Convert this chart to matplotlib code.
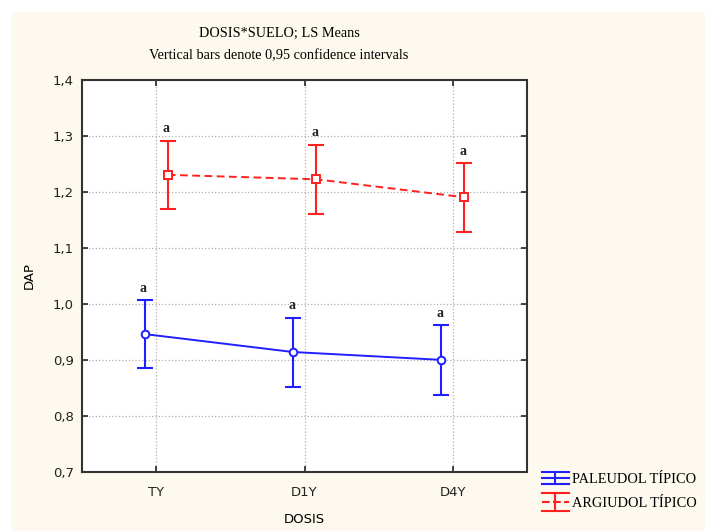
import matplotlib.pyplot as plt
import matplotlib.patches as mpatches
from matplotlib.lines import Line2D
from matplotlib.legend_handler import HandlerBase
import numpy as np

# LS means and 0.95 confidence limits
dosis = ['TY', 'D1Y', 'D4Y']
suelos = ['PALEUDOL TÍPICO', 'ARGIUDOL TÍPICO']
paleudol_mean = [0.946, 0.914, 0.900]
paleudol_low = [0.886, 0.852, 0.838]
paleudol_high = [1.007, 0.975, 0.962]
argiudol_mean = [1.230, 1.222, 1.190]
argiudol_low = [1.169, 1.160, 1.128]
argiudol_high = [1.291, 1.284, 1.251]
letras_paleudol = ['a', 'a', 'a']
letras_argiudol = ['a', 'a', 'a']
yticks = [0.7, 0.8, 0.9, 1.0, 1.1, 1.2, 1.3, 1.4]

cream = '#fef9ee'
blue = '#1f1fff'
red = '#ff2020'


class ErrBarHandler(HandlerBase):
    # legend key drawn like the Statistica one: line, vertical bar, wide caps
    def __init__(self, half, **kw):
        super().__init__(**kw)
        self.half = half

    def create_artists(self, legend, orig_handle, xdescent, ydescent, width,
                       height, fontsize, trans):
        col = orig_handle.get_color()
        ls = orig_handle.get_linestyle()
        x0, x1 = -xdescent, -xdescent + width
        xm = (x0 + x1) / 2
        ym = -ydescent + height / 2
        h = self.half
        arts = [
            Line2D([x0, x1], [ym, ym], color=col, ls=ls, lw=1.5),
            Line2D([xm, xm], [ym - h, ym + h], color=col, lw=1.5),
            Line2D([x0, x1], [ym + h, ym + h], color=col, lw=1.5),
            Line2D([x0, x1], [ym - h, ym - h], color=col, lw=1.5),
        ]
        for a in arts:
            a.set_transform(trans)
        return arts


fig = plt.figure(figsize=(7.05, 5.31), dpi=100, facecolor='white')
fig.patches.append(mpatches.Rectangle((11 / 705, 0), 1, 1 - 12 / 531,
                                      transform=fig.transFigure, facecolor=cream,
                                      edgecolor='none', zorder=-10))

ax = fig.add_axes([82 / 705, 1 - 472 / 531, 445 / 705, 392.5 / 531])
ax.set_facecolor('white')

x = np.arange(len(dosis))
shift = 0.078

series = [
    (paleudol_mean, paleudol_low, paleudol_high, letras_paleudol, blue, '-', 'o', -shift),
    (argiudol_mean, argiudol_low, argiudol_high, letras_argiudol, red, (0, (4, 2.3)), 's', shift),
]

for mean, low, high, letras, col, ls, mk, dx in series:
    mean = np.array(mean)
    yerr = [mean - np.array(low), np.array(high) - mean]
    xs = x + dx
    ax.plot(xs, mean, color=col, linestyle=ls, lw=1.4, zorder=3)
    ax.errorbar(xs, mean, yerr=yerr, fmt='none', ecolor=col, elinewidth=1.5,
                capsize=5.5, capthick=1.5, zorder=3)
    ax.plot(xs, mean, linestyle='none', marker=mk, markersize=5.5,
            markerfacecolor='white', markeredgecolor=col, markeredgewidth=1.4, zorder=4)
    for xi, hi, t in zip(xs, high, letras):
        ax.annotate(t, (xi, hi), xytext=(-1, 6), textcoords='offset points',
                    ha='center', va='baseline', fontsize=10, fontweight='bold',
                    family='Liberation Serif', color='#222222')

ax.set_xlim(-0.5, 2.5)
ax.set_ylim(0.7, 1.4)
ax.set_xticks(x)
ax.set_xticklabels(dosis)
ax.set_yticks(yticks)
ax.set_yticklabels([f'{v:.1f}'.replace('.', ',') for v in yticks])
ax.grid(True, color='#b0b0b0', linestyle=':', linewidth=0.9)
ax.set_axisbelow(True)
ax.tick_params(direction='in', length=4, width=1.2, top=True, right=True,
               labelsize=9.5, colors='#222222')
ax.tick_params(axis='x', pad=10)
ax.tick_params(axis='y', pad=6)
for sp in ax.spines.values():
    sp.set_linewidth(1.5)
    sp.set_color('#333333')

ax.set_xlabel('DOSIS', fontsize=9.5, labelpad=10)
ax.set_ylabel('DAP', fontsize=9.5, labelpad=12)

fig.text(279 / 705, 1 - 33 / 531, 'DOSIS*SUELO; LS Means', ha='center', va='center',
         family='Liberation Serif', fontsize=10.3)
fig.text(279 / 705, 1 - 56 / 531, 'Vertical bars denote 0,95 confidence intervals',
         ha='center', va='center', family='Liberation Serif', fontsize=10.3)

# legend keys
h1 = Line2D([], [], color=blue, ls='-', label=suelos[0])
h2 = Line2D([], [], color=red, ls=(0, (3, 2.5)), label=suelos[1])
fig.legend(handles=[h1, h2], loc='upper left', bbox_to_anchor=(542 / 705, 1 - 473 / 531),
           frameon=False, prop={'family': 'Liberation Serif', 'size': 10.4},
           handler_map={h1: ErrBarHandler(4.3), h2: ErrBarHandler(6.3)},
           handlelength=1.85, handletextpad=0.2, labelspacing=0.75, borderpad=0,
           borderaxespad=0)

fig.savefig('out.png', dpi=100, facecolor='white')
